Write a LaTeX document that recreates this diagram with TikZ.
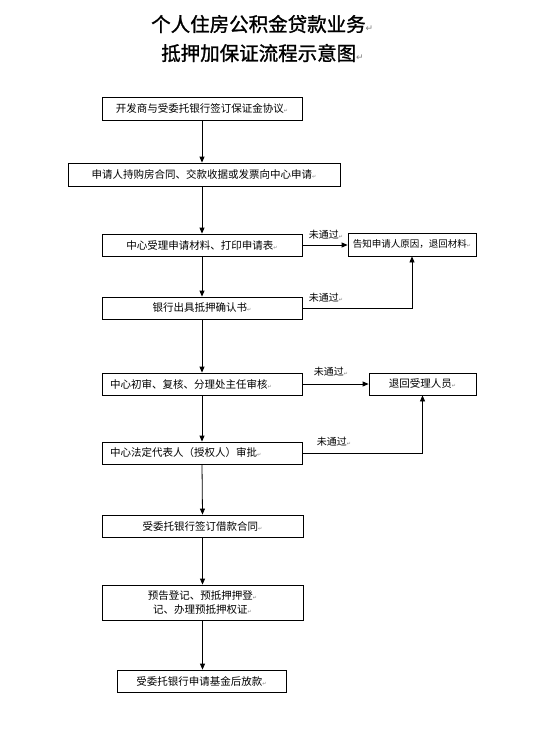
\documentclass[tikz,border=0pt]{standalone}
\usepackage{fontspec}
\setmainfont{Noto Sans CJK SC}
\newfontfamily\titlefont{Noto Sans CJK SC}[FakeBold=1.2]
\newfontfamily\symfont{DejaVu Sans}
\usetikzlibrary{arrows.meta}
\usetikzlibrary{positioning}
\newcommand\pmark{{\symfont\fontsize{5}{5}\selectfont\textcolor{gray}{↵}}}
\newcommand\tmark{{\symfont\fontsize{9}{9}\selectfont\textcolor{gray}{↵}}}
\tikzset{box/.style = {draw, line width=0.8pt, inner sep=0, minimum height=22,
                       font=\fontsize{10.5}{14}\selectfont}}
\tikzset{flow/.style = {draw, line width=0.8pt, -{Triangle[length=6pt,width=5pt]}}}
\tikzset{fail/.style = {inner sep=0, font=\fontsize{10}{12}\selectfont}}
\tikzset{title/.style = {inner sep=0, font=\titlefont\fontsize{19.5}{22}\selectfont}}

\begin{document}
\begin{tikzpicture}[x=1pt, y=-1pt]
      \useasboundingbox (0,0) rectangle (540,736);
      \node (title1) [title, anchor=west] at (151,24) {个人住房公积金贷款业务\tmark};
      \node (title2) [title, anchor=west] at (161,53) {抵押加保证流程示意图\tmark};
      \node (sign) [box, minimum width=200, minimum height=23] at (202,108.5) {开发商与受委托银行签订保证金协议\pmark};
      \node (apply) [box, minimum width=272, minimum height=23] at (204,174.5) {申请人持购房合同、交款收据或发票向中心申请\pmark};
      \node (accept) [box, minimum width=200] at (202,245) {中心受理申请材料、打印申请表\pmark};
      \node (tell) [box, minimum width=128, minimum height=23, font=\fontsize{9.5}{12}\selectfont] at (412,244.5) {告知申请人原因，退回材料\pmark};
      \node (confirm) [box, minimum width=200] at (202,308) {银行出具抵押确认书\pmark};
      \node (review) [box, minimum width=200, text width=184, align=left] at (202,384) {中心初审、复核、分理处主任审核\pmark};
      \node (back) [box, minimum width=107] at (422.5,384) {退回受理人员\pmark};
      \node (approve) [box, minimum width=200, text width=184, align=left] at (202,453) {中心法定代表人（授权人）审批\pmark};
      \node (loan) [box, minimum width=201] at (202.5,526) {受委托银行签订借款合同\pmark};
      \node (register) [box, minimum width=201, minimum height=35, align=center] at (202.5,602.5) {预告登记、预抵押押登\pmark\\ 记、办理预抵押权证\pmark};
      \node (pay) [box, minimum width=169] at (201.5,681) {受委托银行申请基金后放款\pmark};
      % main flow
      \draw [flow] (sign.south) -- (sign.south |- apply.north);
      \draw [flow] (sign.south |- apply.south) -- (accept.north);
      \draw [flow] (accept.south) -- (confirm.north);
      \draw [flow] (confirm.south) -- (review.north);
      \draw [flow] (review.south) -- (approve.north);
      \draw [flow] (approve.south) -- (loan.north);
      \draw [flow] (loan.south) -- (register.north);
      \draw [flow] (register.south) -- (register.south |- pay.north);
      % rejections
      \draw [flow] (accept.east) -- (accept.east -| tell.west);
      \draw [flow] (confirm.east) -| (tell.south);
      \draw [flow] (review.east) -- (back.west);
      \draw [flow] (approve.east) -| (back.south);
      \node (fail1) [fail] at (326,235) {未通过\pmark};
      \node (fail2) [fail] at (326,298) {未通过\pmark};
      \node (fail3) [fail] at (331,372) {未通过\pmark};
      \node (fail4) [fail] at (334,442) {未通过\pmark};
\end{tikzpicture}
\end{document}
